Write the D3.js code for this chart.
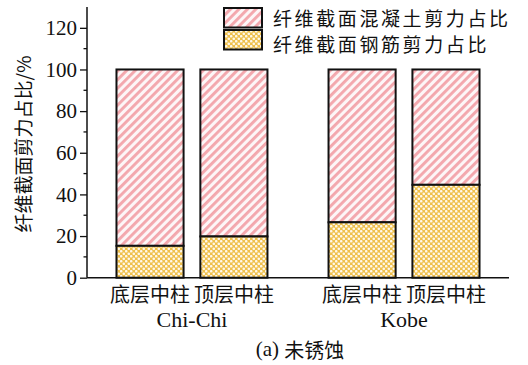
<!DOCTYPE html>
<html>
<head>
<meta charset="utf-8">
<script src="https://cdn.jsdelivr.net/npm/d3@7"></script>
<style>
  html, body { margin: 0; padding: 0; background: #fff; }
  svg { display: block; }
</style>
</head>
<body>
<svg id="chart" width="528" height="365"></svg>
<script>
// Earthquake records and column positions
const groups = ["Chi-Chi", "Kobe"];
const columns = ["底层中柱", "顶层中柱"];
// Share of section shear carried by reinforcement (%), per group then column
const steelShare = [
  [15.3, 19.8],
  [26.6, 44.6]
];
// Concrete carries the remainder of the total (100%)
const totalShare = 100;
const yTicks = [0, 20, 40, 60, 80, 100, 120];
const legendLabels = ["纤维截面混凝土剪力占比", "纤维截面钢筋剪力占比"];
const yTitle = "纤维截面剪力占比/%";
const caption = "(a) 未锈蚀";

const CJK = '"Noto Sans CJK SC", sans-serif';
const SERIF = '"Liberation Serif", "Times New Roman", serif';

const svg = d3.select("#chart");
const plotL = 87, plotR = 509, plotT = 7, plotB = 277.7;

// Fill patterns: pink hatching for concrete, yellow dotted mesh for steel
const defs = svg.append("defs");
const hatch = defs.append("pattern")
  .attr("id", "hatch").attr("patternUnits", "userSpaceOnUse")
  .attr("width", 6).attr("height", 6)
  .attr("patternTransform", "rotate(45)");
hatch.append("rect").attr("width", 6).attr("height", 6).attr("fill", "#fdf6f7");
hatch.append("rect").attr("width", 2.9).attr("height", 6).attr("fill", "#f3a7ad");

const dots = defs.append("pattern")
  .attr("id", "dots").attr("patternUnits", "userSpaceOnUse")
  .attr("width", 5).attr("height", 5);
dots.append("rect").attr("width", 5).attr("height", 5).attr("fill", "#efc04c");
[[1.25, 1.25], [3.75, 3.75]].forEach(([cx, cy]) => {
  dots.append("circle").attr("cx", cx).attr("cy", cy).attr("r", 1.3).attr("fill", "#fff8ea");
});

const xGroup = d3.scaleBand().domain(groups).range([plotL, plotR])
  .paddingInner(0.288).paddingOuter(0.139);
const xCol = d3.scaleBand().domain(columns).range([0, xGroup.bandwidth()])
  .paddingInner(0.2).paddingOuter(0);
const y = d3.scaleLinear().domain([0, 130]).range([plotB, plotT]);

// Bars
groups.forEach((g, gi) => {
  columns.forEach((c, ci) => {
    const x0 = xGroup(g) + xCol(c);
    const w = xCol.bandwidth();
    const s = steelShare[gi][ci];
    svg.append("rect")
      .attr("x", x0).attr("y", y(totalShare))
      .attr("width", w).attr("height", y(s) - y(totalShare))
      .attr("fill", "url(#hatch)").attr("stroke", "#111").attr("stroke-width", 2);
    svg.append("rect")
      .attr("x", x0).attr("y", y(s))
      .attr("width", w).attr("height", y(0) - y(s))
      .attr("fill", "url(#dots)").attr("stroke", "#111").attr("stroke-width", 2);
    svg.append("text")
      .attr("x", x0 + w / 2).attr("y", 293.5)
      .attr("text-anchor", "middle").attr("dominant-baseline", "central")
      .style("font-family", CJK).style("font-size", "20px").attr("fill", "#111")
      .text(c);
  });
  svg.append("text")
    .attr("x", xGroup(g) + xGroup.bandwidth() / 2).attr("y", 327)
    .attr("text-anchor", "middle")
    .style("font-family", SERIF).style("font-size", "22px").attr("fill", "#111")
    .text(g);
});

// Y axis with major and minor ticks
const yAxis = svg.append("g").attr("transform", `translate(${plotL},0)`)
  .call(d3.axisLeft(y).tickValues(yTicks).tickSize(7).tickSizeOuter(0).tickPadding(3));
yAxis.select(".domain").remove();
yAxis.selectAll(".tick line").attr("stroke", "#111").attr("stroke-width", 1.3);
yAxis.selectAll(".tick text")
  .style("font-family", SERIF).style("font-size", "21px").attr("fill", "#111");
const minorTicks = d3.range(10, 130, 20);
svg.append("g").selectAll("line").data(minorTicks).join("line")
  .attr("x1", plotL - 3.5).attr("x2", plotL)
  .attr("y1", d => y(d)).attr("y2", d => y(d))
  .attr("stroke", "#111").attr("stroke-width", 1.3);
svg.append("line").attr("x1", plotL).attr("x2", plotL).attr("y1", plotT).attr("y2", plotB)
  .attr("stroke", "#111").attr("stroke-width", 1.5);
svg.append("line").attr("x1", plotL).attr("x2", plotR).attr("y1", plotB).attr("y2", plotB)
  .attr("stroke", "#111").attr("stroke-width", 1.5);

// Y title
svg.append("text")
  .attr("transform", "translate(22,144) rotate(-90)")
  .attr("text-anchor", "middle").attr("dominant-baseline", "central")
  .style("font-family", CJK).style("font-size", "19px").attr("fill", "#111")
  .text(yTitle);

// Legend
const legendFills = ["url(#hatch)", "url(#dots)"];
legendLabels.forEach((lab, i) => {
  const yy = 8 + i * 22;
  svg.append("rect").attr("x", 224).attr("y", yy).attr("width", 38).attr("height", 19.5)
    .attr("fill", legendFills[i]).attr("stroke", "#111").attr("stroke-width", 2);
  svg.append("text")
    .attr("x", 273).attr("y", 17 + i * 26)
    .attr("dominant-baseline", "central")
    .style("font-family", CJK).style("font-size", "19px").style("letter-spacing", "2.6px")
    .attr("fill", "#111")
    .text(lab);
});

// Caption
const capParts = caption.split(" ");
svg.append("text")
  .attr("x", 300).attr("y", 349)
  .attr("text-anchor", "middle").attr("dominant-baseline", "central")
  .attr("fill", "#111")
  .call(t => {
    t.append("tspan").style("font-family", SERIF).style("font-size", "21px").text(capParts[0] + " ");
    t.append("tspan").style("font-family", CJK).style("font-size", "20px").text(capParts[1]);
  });
</script>
</body>
</html>
